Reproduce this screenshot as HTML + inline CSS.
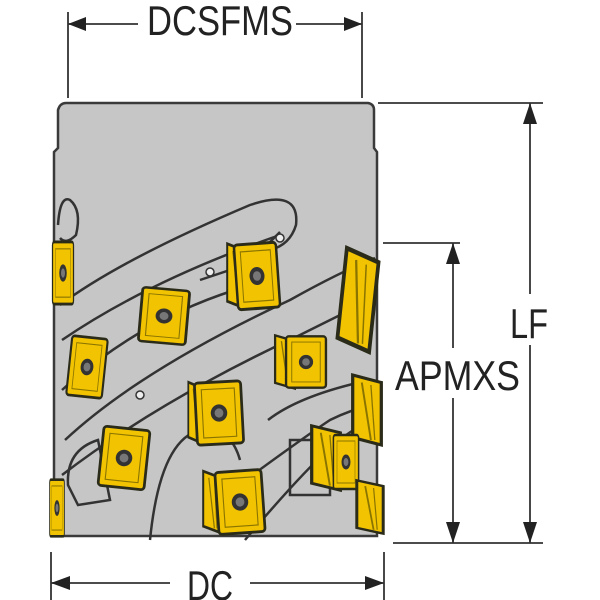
<!DOCTYPE html>
<html><head><style>html,body{margin:0;padding:0;background:#fff}svg{display:block}</style></head>
<body>
<svg width="600" height="600" viewBox="0 0 600 600" xmlns="http://www.w3.org/2000/svg" font-family="Liberation Sans, sans-serif">
<defs>
<g id="ins">
<rect x="-21" y="-27" width="42" height="54" rx="3" fill="#f2c300" stroke="#2b2b1a" stroke-width="2.5"/>
<rect x="-15" y="-21" width="30" height="42" fill="none" stroke="#8a7400" stroke-width="1"/>
<circle r="7.5" fill="#333" /><circle r="4" fill="#777"/>
</g>
<g id="side">
<path d="M-11,-28 L11,-22 L11,28 L-11,22 Z" fill="#f2c300" stroke="#2b2b1a" stroke-width="2.5"/>
<path d="M-4,-22 L3,24" stroke="#8a7400" stroke-width="1.5"/>
<path d="M3,-20 L6,24" stroke="#8a7400" stroke-width="1"/>
</g>
</defs>
<!-- body -->
<path d="M66,103 L368,103 Q374,104 374,110 L374,148 L377,152 L377,536 L54,536 L54,152 L58,148 L58,110 Q60,103 66,103 Z" fill="#c6c6c6" stroke="#3a3a3a" stroke-width="2.5"/>
<!-- helix bands -->
<g fill="none" stroke="#333" stroke-width="2.5">
<path d="M60,305 Q120,260 250,205 Q300,188 296,225 Q290,245 270,250"/>
<path d="M62,340 Q150,280 280,235"/>
<path d="M62,390 Q140,320 235,290"/>
<path d="M65,440 Q140,370 290,300 Q340,272 375,258"/>
<path d="M62,475 Q160,400 300,335 Q350,310 375,298"/>
<path d="M150,540 Q160,440 200,430 Q230,425 240,460"/>
<path d="M268,420 Q300,395 370,380"/>
<path d="M232,490 Q300,440 330,420 Q350,410 372,405"/>
<path d="M245,540 Q300,475 330,448 Q350,430 372,420"/>
<path d="M58,225 Q60,195 70,200 Q82,210 76,235 Q66,245 60,238"/>
<path d="M68,485 Q66,450 98,440 L110,500 L78,505 Z"/>
<path d="M290,440 L330,440 L330,495 L290,495 Z"/>
<path d="M200,280 L230,270 L236,300"/>
<path d="M262,250 L280,232"/>
</g>
<g fill="#eee" stroke="#333" stroke-width="1.5">
<circle cx="210" cy="272" r="4"/><circle cx="280" cy="238" r="4"/><circle cx="140" cy="395" r="4"/><circle cx="290" cy="380" r="4"/><circle cx="165" cy="335" r="3"/>
</g>
<!-- inserts -->
<use href="#ins" transform="translate(63,273) scale(0.5,1.15)"/>
<use href="#ins" transform="translate(164,316) rotate(5) scale(1.12,1)"/>
<use href="#side" transform="translate(236,276) scale(0.8,1.15)"/>
<use href="#ins" transform="translate(257,276) rotate(-4) scale(1.0,1.2)"/>
<use href="#ins" transform="translate(87,367) rotate(6) scale(0.85,1.1)"/>
<use href="#side" transform="translate(358,300) rotate(6) scale(1.5,1.8)"/>
<use href="#side" transform="translate(285,362) scale(0.9,0.95)"/>
<use href="#ins" transform="translate(306,362) scale(0.95,0.95)"/>
<use href="#side" transform="translate(196,413) scale(0.7,1.1)"/>
<use href="#ins" transform="translate(219,413) rotate(-3) scale(1.1,1.15)"/>
<use href="#ins" transform="translate(124,458) rotate(6) scale(1.1,1.1)"/>
<use href="#side" transform="translate(367,410) scale(1.3,1.25)"/>
<use href="#side" transform="translate(326,458) scale(1.3,1.15)"/>
<use href="#ins" transform="translate(346,462) scale(0.6,1)"/>
<use href="#side" transform="translate(212,502) scale(0.8,1.1)"/>
<use href="#ins" transform="translate(240,502) rotate(-4) scale(1.1,1.15)"/>
<use href="#ins" transform="translate(57,508) scale(0.35,1.05)"/>
<use href="#side" transform="translate(370,507) scale(1.2,0.95)"/>
<!-- dimensions -->
<g stroke="#333" stroke-width="1.8" fill="none">
<line x1="68" y1="12" x2="68" y2="98"/><line x1="362" y1="12" x2="362" y2="98"/>
<line x1="68" y1="24" x2="138" y2="24"/><line x1="296" y1="24" x2="362" y2="24"/>
<line x1="378" y1="103" x2="543" y2="103"/><line x1="393" y1="543" x2="543" y2="543"/>
<line x1="530" y1="103" x2="530" y2="294"/><line x1="530" y1="345" x2="530" y2="543"/>
<line x1="383" y1="243" x2="460" y2="243"/>
<line x1="453" y1="243" x2="453" y2="348"/><line x1="453" y1="398" x2="453" y2="543"/>
<line x1="51" y1="552" x2="51" y2="600"/><line x1="384" y1="552" x2="384" y2="600"/>
<line x1="51" y1="583" x2="170" y2="583"/><line x1="250" y1="583" x2="384" y2="583"/>
</g>
<g fill="#222">
<path d="M68,24 L86,17 L86,31 Z"/><path d="M362,24 L344,17 L344,31 Z"/>
<path d="M530,103 L523,124 L537,124 Z"/><path d="M530,543 L523,522 L537,522 Z"/>
<path d="M453,243 L446,264 L460,264 Z"/><path d="M453,543 L446,522 L460,522 Z"/>
<path d="M51,583 L70,576 L70,590 Z"/><path d="M384,583 L365,576 L365,590 Z"/>
</g>
<g fill="#222" font-size="42">
<text x="147" y="35" textLength="146" lengthAdjust="spacingAndGlyphs">DCSFMS</text>
<text x="510" y="338" textLength="38" lengthAdjust="spacingAndGlyphs">LF</text>
<text x="395" y="390" textLength="125" lengthAdjust="spacingAndGlyphs">APMXS</text>
<text x="187" y="600" textLength="46" lengthAdjust="spacingAndGlyphs">DC</text>
</g>
</svg>
</body></html>
